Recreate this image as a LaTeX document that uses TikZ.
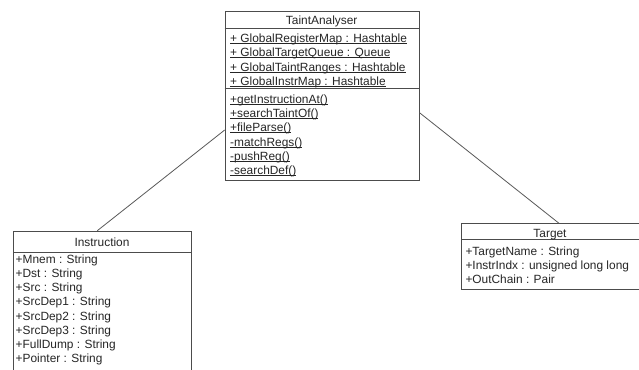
\documentclass[tikz,border=0pt]{standalone}
\usepackage{fontspec}
\setmainfont{Liberation Sans}
\newlength\myulw
\newcommand\myul[1]{\settowidth\myulw{#1}\rlap{\rule[-1.3pt]{\myulw}{0.65pt}}#1}
\begin{document}
\begin{tikzpicture}[x=1pt,y=-1pt,
  font=\fontsize{11.9}{14}\selectfont,
  box/.style={draw=black!70, line width=0.8pt, fill=white, anchor=north west, inner sep=0pt},
  sep/.style={draw=black!70, line width=0.8pt},
  assoc/.style={draw=black!65, line width=0.8pt},
  title/.style={anchor=base, inner sep=0pt, text=black!85},
  item/.style={anchor=base west, inner sep=0pt, text=black!85}]
\useasboundingbox (0,0) rectangle (639,369);
\clip (0,0) rectangle (639,369);
\fill[white] (0,0) rectangle (639,369);

% TaintAnalyser
\node[box, minimum width=194pt, minimum height=168.7pt] (ta) at (224.7,11.3) {};
\draw[sep] (224.7,28.7) -- (418.7,28.7);
\draw[sep] (224.7,88.7) -- (418.7,88.7);
\node[title] (tat) at (321.7,24.3) {TaintAnalyser};
\node[item] (ta1) at (230,42.6) {\myul{+ GlobalRegisterMap : Hashtable}};
\node[item] (ta2) at (230,56.8) {\myul{+ GlobalTargetQueue : Queue}};
\node[item] (ta3) at (230,71.0) {\myul{+ GlobalTaintRanges : Hashtable}};
\node[item] (ta4) at (230,85.2) {\myul{+ GlobalInstrMap : Hashtable}};
\node[item] (tm1) at (230,103.3) {\myul{+getInstructionAt()}};
\node[item] (tm2) at (230,117.6) {\myul{+searchTaintOf()}};
\node[item] (tm3) at (230,131.6) {\myul{+fileParse()}};
\node[item] (tm4) at (230,146.0) {\myul{-matchRegs()}};
\node[item] (tm5) at (230,160.3) {\myul{-pushReg()}};
\node[item] (tm6) at (230,174.8) {\myul{-searchDef()}};

% Instruction
\node[box, minimum width=177.4pt, minimum height=160pt] (instr) at (13.3,230.7) {};
\draw[sep] (13.3,252) -- (190.7,252);
\node[title] (it) at (102,246.3) {Instruction};
\node[item] (i1) at (15.5,263.6) {+Mnem : String};
\node[item] (i2) at (15.5,277.7) {+Dst : String};
\node[item] (i3) at (15.5,291.8) {+Src : String};
\node[item] (i4) at (15.5,305.9) {+SrcDep1 : String};
\node[item] (i5) at (15.5,320.0) {+SrcDep2 : String};
\node[item] (i6) at (15.5,334.1) {+SrcDep3 : String};
\node[item] (i7) at (15.5,348.2) {+FullDump : String};
\node[item] (i8) at (15.5,362.3) {+Pointer : String};

% Target
\node[box, minimum width=177.2pt, minimum height=66pt] (tg) at (461.3,223.3) {};
\draw[sep] (461.3,239.3) -- (638.5,239.3);
\node[title] (tgt) at (550,237.6) {Target};
\node[item] (g1) at (465.3,255.0) {+TargetName : String};
\node[item] (g2) at (465.3,269.3) {+InstrIndx : unsigned long long};
\node[item] (g3) at (465.3,283.6) {+OutChain : Pair};

% associations
\draw[assoc] ([xshift=84pt]instr.north west) -- ([yshift=-118.7pt]ta.north west);
\draw[assoc] ([yshift=-101.4pt]ta.north east) -- ([xshift=97.7pt]tg.north west);
\end{tikzpicture}
\end{document}
